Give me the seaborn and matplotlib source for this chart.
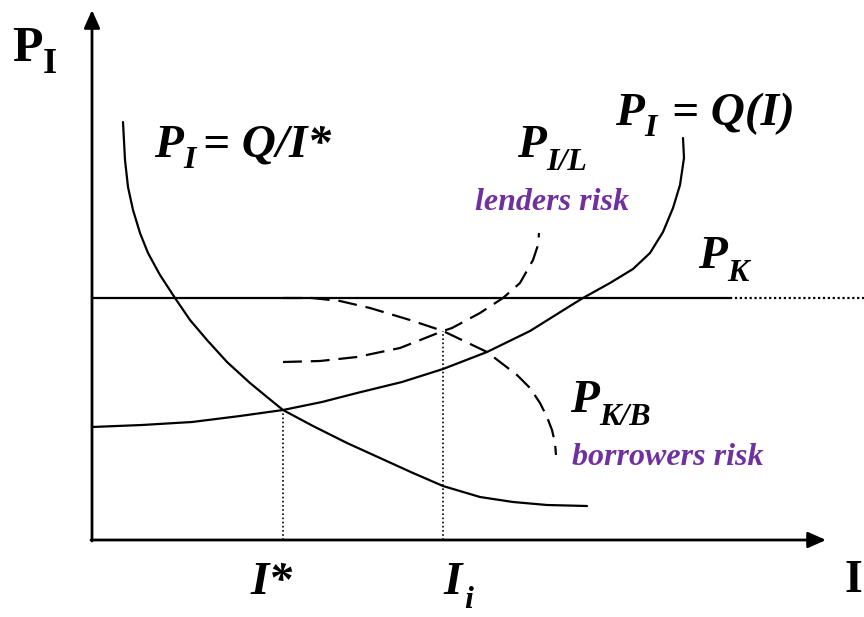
import matplotlib
matplotlib.use("Agg")
import matplotlib.pyplot as plt
import seaborn as sns
import pandas as pd

# ---- data (origin at the axes corner; x = investment I, y = price P_I) ----
# P_I = Q/I*  (solid, falling)
qistar_x = [31, 33, 36, 41, 48, 56, 68, 83, 98, 115, 135, 158, 175, 191,
            221, 255, 288, 321, 351, 388, 421, 455, 495]
qistar_y = [418, 380, 353, 330, 307, 287, 265, 242, 220, 200, 178, 157, 143, 130,
            114, 97, 82, 67, 54, 43, 38, 35, 34]
# P_I = Q(I)  (solid, rising)
qi_x = [0, 50, 100, 148, 191, 230, 265, 310, 351, 395, 438, 478, 491, 518,
        541, 558, 571, 581, 588, 592, 591]
qi_y = [113, 115, 118, 124, 130, 138, 147, 158, 171, 188, 209, 234, 242, 257,
        271, 287, 308, 332, 355, 382, 402]
# P_I/L  lenders risk (dashed)
pil_x = [191, 228, 265, 308, 351, 360, 388, 411, 428, 441, 446, 447]
pil_y = [178, 179, 183, 192, 209, 212, 227, 242, 257, 280, 295, 307]
# P_K/B  borrowers risk (dashed)
pkb_x = [191, 220, 248, 278, 318, 351, 395, 425, 438, 448, 455, 460, 463, 464]
pkb_y = [242, 242, 239, 232, 220, 209, 188, 165, 152, 137, 123, 110, 97, 85]
# P_K level
pk_level = 242
pk_solid_end = 638
pk_dotted_end = 772
# equilibrium investments
istar_x, istar_y = 191, 130
ii_x, ii_y = 351, 209

PURPLE = "#7030A0"

sns.set_theme(style="white", rc={"text.color": "black"})
plt.rcParams["font.family"] = ["Liberation Serif", "DejaVu Serif"]

fig = plt.figure(figsize=(8.64, 6.17), dpi=100)
ax = fig.add_axes([0, 0, 1, 1])
ax.set_xlim(-92, 772)
ax.set_ylim(-77, 540)
ax.set_axis_off()

lw = 1.6
def line(xs, ys, **kw):
    df = pd.DataFrame({"x": xs, "y": ys})
    sns.lineplot(data=df, x="x", y="y", sort=False, estimator=None, ax=ax,
                 color="black", **kw)

line(qistar_x, qistar_y, linewidth=lw)
line(qi_x, qi_y, linewidth=lw)
line(pil_x, pil_y, linewidth=lw, linestyle=(0, (8.5, 4)))
line(pkb_x, pkb_y, linewidth=lw, linestyle=(0, (8.5, 4)))
line([0, pk_solid_end], [pk_level, pk_level], linewidth=lw)
line([pk_solid_end, pk_dotted_end], [pk_level, pk_level], linewidth=lw,
     linestyle=(0, (1, 1.2)))
line([istar_x, istar_x], [0, istar_y], linewidth=1.2, linestyle=(0, (1, 1.5)))
line([ii_x, ii_x], [0, ii_y], linewidth=1.2, linestyle=(0, (1, 1.5)))

# axes with arrows
arrow = dict(arrowstyle="-|>,head_length=0.9,head_width=0.4", color="black",
             linewidth=2.0, shrinkA=0, shrinkB=0)
ax.annotate("", xy=(0, 530), xytext=(0, -1), arrowprops=arrow)
ax.annotate("", xy=(734, 0), xytext=(-1, 0), arrowprops=arrow)

# ---- labels (positions given in picture pixels) ----
def T(px, py, s, size, italic=True, color="black"):
    ax.text(px - 92, 540 - py, s, fontsize=size, fontweight="bold",
            fontstyle="italic" if italic else "normal", color=color,
            ha="left", va="baseline")

big, sub = 34, 23
# y-axis title
T(12, 61, "P", 36, italic=False)
T(43, 73, "I", 26, italic=False)
# P_I = Q/I*
T(154, 157, "P", big); T(183, 168, "I", sub); T(203, 157, "= Q/I*", big)
# P_I/L
T(517, 157, "P", big); T(546, 170, "I/L", sub)
T(475, 210, "lenders risk", 23, color=PURPLE)
# P_I = Q(I)
T(615, 125, "P", big); T(644, 136, "I", sub); T(672, 125, "= Q(I)", big)
# P_K
T(698, 268, "P", big); T(727, 281, "K", sub)
# P_K/B
T(570, 412, "P", big); T(599, 425, "K/B", sub)
T(572, 465, "borrowers risk", 23, color=PURPLE)
# x labels
T(250, 594, "I*", big)
T(443, 594, "I", big); T(464, 608, "i", sub)
T(845, 592, "I", 33, italic=False)

fig.savefig("out.png", dpi=100)
